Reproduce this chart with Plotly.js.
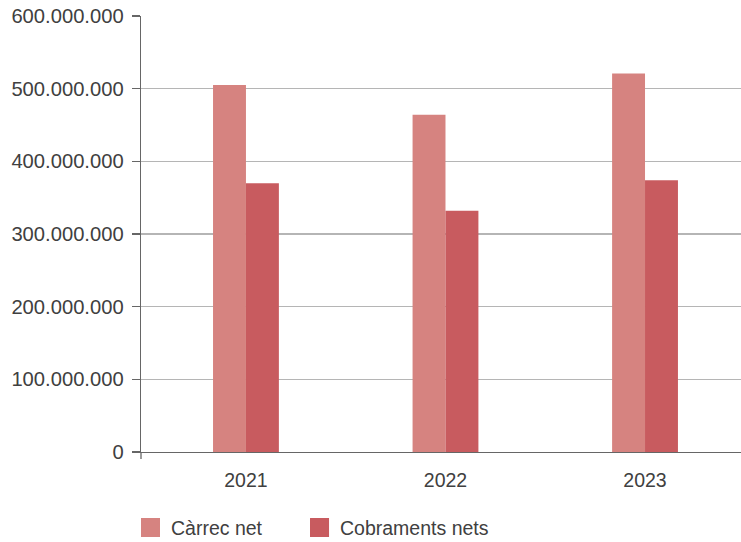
<!DOCTYPE html>
<html>
<head>
<meta charset="utf-8">
<script src="https://cdn.plot.ly/plotly-3.0.1.min.js"></script>
<style>html,body{margin:0;padding:0;background:#fff;}#chart{width:741px;height:542px;}</style>
</head>
<body>
<div id="chart"></div>
<script>
const years = ['2021', '2022', '2023'];
const seriesNames = ['Càrrec net', 'Cobraments nets'];
const carrecNet = [505000000, 464000000, 521000000];
const cobramentsNets = [370000000, 332000000, 374000000];
const yTickVals = [0, 100000000, 200000000, 300000000, 400000000, 500000000, 600000000];
const yTickText = ['0', '100.000.000', '200.000.000', '300.000.000', '400.000.000', '500.000.000', '600.000.000'];
const colors = ['#d68380', '#c85b5f'];

const font = {family: 'Liberation Sans, Arial, sans-serif', size: 19.5, color: '#404040'};
const yFont = {family: 'Liberation Sans, Arial, sans-serif', size: 20.2, color: '#404040'};

const traces = [
  {type: 'bar', x: years, y: carrecNet, name: seriesNames[0], marker: {color: colors[0]}, showlegend: false, hoverinfo: 'none'},
  {type: 'bar', x: years, y: cobramentsNets, name: seriesNames[1], marker: {color: colors[1]}, showlegend: false, hoverinfo: 'none'}
];

// Manual legend (squares + labels) in paper coordinates
const legendX = [0, 0.2817];
const shapes = [
  {type: 'line', xref: 'paper', yref: 'paper', x0: 0, x1: 0, y0: 0, y1: -0.016, line: {color: '#666', width: 1.3}}
];
const annotations = [];
legendX.forEach((lx, i) => {
  shapes.push({type: 'rect', xref: 'paper', yref: 'paper', x0: lx, x1: lx + 0.0317, y0: -0.1514, y1: -0.195, fillcolor: colors[i], line: {width: 0}});
  annotations.push({xref: 'paper', yref: 'paper', x: lx + 0.047, y: -0.1732, xanchor: 'left', yanchor: 'middle', text: seriesNames[i], showarrow: false, font: font});
});

const layout = {
  width: 741, height: 542,
  margin: {l: 141, r: 0, t: 16, b: 90},
  paper_bgcolor: '#fff', plot_bgcolor: '#fff',
  font: font,
  barmode: 'group',
  bargap: 0.67,
  bargroupgap: 0,
  showlegend: false,
  xaxis: {
    type: 'category',
    range: [-0.526, 2.481],
    showgrid: false,
    showline: true, linecolor: '#666', linewidth: 1.3,
    ticks: '', ticklabelstandoff: 10,
    tickfont: font, zeroline: false
  },
  yaxis: {
    range: [0, 600000000],
    tickvals: yTickVals, ticktext: yTickText,
    showgrid: true, gridcolor: '#b5b5b5', gridwidth: 1.3,
    showline: true, linecolor: '#666', linewidth: 1.3,
    ticks: 'outside', ticklen: 8, tickcolor: '#666', tickwidth: 1.3,
    ticklabelstandoff: 4,
    tickfont: yFont, zeroline: false
  },
  shapes: shapes,
  annotations: annotations
};

Plotly.newPlot('chart', traces, layout, {displayModeBar: false, staticPlot: true});
</script>
</body>
</html>
